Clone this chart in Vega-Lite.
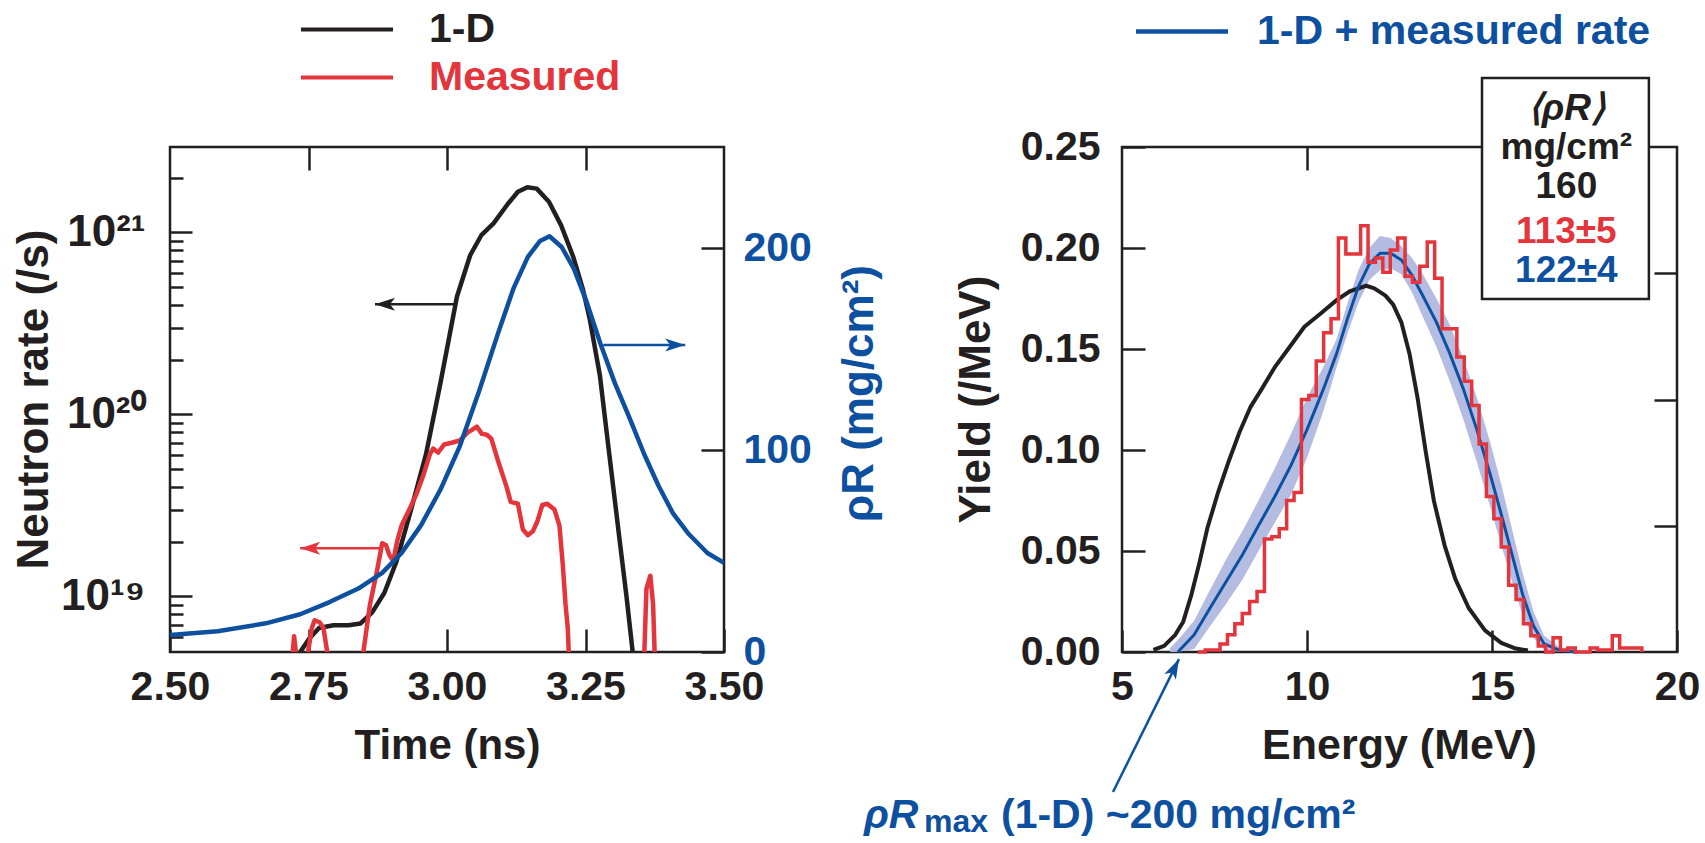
{
"$schema": "https://vega.github.io/schema/vega-lite/v6.json",
"autosize": {"type": "none"},
"padding": {"left": 170, "top": 147, "right": 1535, "bottom": 696},
"background": "white",
"bounds": "flush",
"spacing": 398,
"config": {
  "view": {"stroke": "#231f20", "strokeWidth": 2.5},
  "axis": {
    "grid": false, "domain": false,
    "labelFont": "Liberation Sans", "labelFontSize": 41, "labelFontWeight": "bold", "labelColor": "#231f20",
    "titleFont": "Liberation Sans", "titleFontSize": 42, "titleFontWeight": "bold", "titleColor": "#231f20",
    "tickColor": "#231f20", "tickWidth": 2.5, "labelFlush": false, "labelOverlap": false
  },
  "text": {"font": "Liberation Sans", "fontWeight": "bold"}
},
"datasets": {
  "rate": [
    {"series":"1-D","seg":"b","t":2.730,"rate":4.7e18},
    {"series":"1-D","seg":"b","t":2.752,"rate":5.90e18},
    {"series":"1-D","seg":"b","t":2.769,"rate":6.70e18},
    {"series":"1-D","seg":"b","t":2.795,"rate":6.95e18},
    {"series":"1-D","seg":"b","t":2.822,"rate":6.95e18},
    {"series":"1-D","seg":"b","t":2.844,"rate":7.10e18},
    {"series":"1-D","seg":"b","t":2.865,"rate":8.17e18},
    {"series":"1-D","seg":"b","t":2.887,"rate":1.047e19},
    {"series":"1-D","seg":"b","t":2.909,"rate":1.563e19},
    {"series":"1-D","seg":"b","t":2.935,"rate":2.99e19},
    {"series":"1-D","seg":"b","t":2.962,"rate":6.03e19},
    {"series":"1-D","seg":"b","t":2.988,"rate":1.48e20},
    {"series":"1-D","seg":"b","t":3.018,"rate":4.45e20},
    {"series":"1-D","seg":"b","t":3.042,"rate":7.52e20},
    {"series":"1-D","seg":"b","t":3.062,"rate":9.66e20},
    {"series":"1-D","seg":"b","t":3.084,"rate":1.122e21},
    {"series":"1-D","seg":"b","t":3.110,"rate":1.439e21},
    {"series":"1-D","seg":"b","t":3.128,"rate":1.675e21},
    {"series":"1-D","seg":"b","t":3.145,"rate":1.774e21},
    {"series":"1-D","seg":"b","t":3.162,"rate":1.742e21},
    {"series":"1-D","seg":"b","t":3.184,"rate":1.476e21},
    {"series":"1-D","seg":"b","t":3.206,"rate":1.094e21},
    {"series":"1-D","seg":"b","t":3.228,"rate":7.33e20},
    {"series":"1-D","seg":"b","t":3.245,"rate":4.92e20},
    {"series":"1-D","seg":"b","t":3.258,"rate":3.30e20},
    {"series":"1-D","seg":"b","t":3.276,"rate":1.637e20},
    {"series":"1-D","seg":"b","t":3.293,"rate":6.03e19},
    {"series":"1-D","seg":"b","t":3.311,"rate":2.11e19},
    {"series":"1-D","seg":"b","t":3.324,"rate":9.98e18},
    {"series":"1-D","seg":"b","t":3.336,"rate":4.7e18},
    {"series":"Measured","seg":"r1","t":2.721,"rate":4.7e18},
    {"series":"Measured","seg":"r1","t":2.724,"rate":6.05e18},
    {"series":"Measured","seg":"r1","t":2.728,"rate":4.7e18},
    {"series":"Measured","seg":"r2","t":2.748,"rate":4.7e18},
    {"series":"Measured","seg":"r2","t":2.756,"rate":6.70e18},
    {"series":"Measured","seg":"r2","t":2.761,"rate":7.40e18},
    {"series":"Measured","seg":"r2","t":2.770,"rate":7.21e18},
    {"series":"Measured","seg":"r2","t":2.777,"rate":6.70e18},
    {"series":"Measured","seg":"r2","t":2.785,"rate":4.7e18},
    {"series":"Measured","seg":"r3","t":2.848,"rate":4.7e18},
    {"series":"Measured","seg":"r3","t":2.861,"rate":9.04e18},
    {"series":"Measured","seg":"r3","t":2.873,"rate":1.349e19},
    {"series":"Measured","seg":"r3","t":2.883,"rate":1.959e19},
    {"series":"Measured","seg":"r3","t":2.890,"rate":1.910e19},
    {"series":"Measured","seg":"r3","t":2.896,"rate":1.687e19},
    {"series":"Measured","seg":"r3","t":2.903,"rate":1.567e19},
    {"series":"Measured","seg":"r3","t":2.910,"rate":2.01e19},
    {"series":"Measured","seg":"r3","t":2.918,"rate":2.455e19},
    {"series":"Measured","seg":"r3","t":2.932,"rate":3.00e19},
    {"series":"Measured","seg":"r3","t":2.945,"rate":3.66e19},
    {"series":"Measured","seg":"r3","t":2.958,"rate":4.70e19},
    {"series":"Measured","seg":"r3","t":2.969,"rate":6.04e19},
    {"series":"Measured","seg":"r3","t":2.975,"rate":6.50e19},
    {"series":"Measured","seg":"r3","t":2.984,"rate":6.18e19},
    {"series":"Measured","seg":"r3","t":2.995,"rate":6.84e19},
    {"series":"Measured","seg":"r3","t":3.010,"rate":7.01e19},
    {"series":"Measured","seg":"r3","t":3.023,"rate":7.19e19},
    {"series":"Measured","seg":"r3","t":3.037,"rate":7.94e19},
    {"series":"Measured","seg":"r3","t":3.045,"rate":8.22e19},
    {"series":"Measured","seg":"r3","t":3.054,"rate":8.57e19},
    {"series":"Measured","seg":"r3","t":3.063,"rate":7.82e19},
    {"series":"Measured","seg":"r3","t":3.072,"rate":7.74e19},
    {"series":"Measured","seg":"r3","t":3.080,"rate":7.36e19},
    {"series":"Measured","seg":"r3","t":3.093,"rate":5.46e19},
    {"series":"Measured","seg":"r3","t":3.107,"rate":4.05e19},
    {"series":"Measured","seg":"r3","t":3.115,"rate":3.31e19},
    {"series":"Measured","seg":"r3","t":3.128,"rate":3.23e19},
    {"series":"Measured","seg":"r3","t":3.137,"rate":2.33e19},
    {"series":"Measured","seg":"r3","t":3.146,"rate":2.17e19},
    {"series":"Measured","seg":"r3","t":3.155,"rate":2.28e19},
    {"series":"Measured","seg":"r3","t":3.163,"rate":2.58e19},
    {"series":"Measured","seg":"r3","t":3.172,"rate":3.18e19},
    {"series":"Measured","seg":"r3","t":3.181,"rate":3.23e19},
    {"series":"Measured","seg":"r3","t":3.194,"rate":3.00e19},
    {"series":"Measured","seg":"r3","t":3.203,"rate":2.45e19},
    {"series":"Measured","seg":"r3","t":3.209,"rate":1.49e19},
    {"series":"Measured","seg":"r3","t":3.214,"rate":9.04e18},
    {"series":"Measured","seg":"r3","t":3.218,"rate":6.70e18},
    {"series":"Measured","seg":"r3","t":3.220,"rate":4.7e18},
    {"series":"Measured","seg":"r4","t":3.356,"rate":4.7e18},
    {"series":"Measured","seg":"r4","t":3.360,"rate":1.104e19},
    {"series":"Measured","seg":"r4","t":3.367,"rate":1.30e19},
    {"series":"Measured","seg":"r4","t":3.372,"rate":9.04e18},
    {"series":"Measured","seg":"r4","t":3.375,"rate":4.7e18}
  ],
  "rho": [
    {"t":2.500,"rho":8.4},{"t":2.586,"rho":10.3},{"t":2.673,"rho":14.2},{"t":2.735,"rho":18.7},
    {"t":2.787,"rho":24.6},{"t":2.840,"rho":31.4},{"t":2.883,"rho":39.2},{"t":2.918,"rho":49.0},
    {"t":2.953,"rho":62.7},{"t":2.988,"rho":80.3},{"t":3.023,"rho":101.8},{"t":3.058,"rho":129.2},
    {"t":3.093,"rho":158.5},{"t":3.120,"rho":180.0},{"t":3.146,"rho":195.6},{"t":3.168,"rho":203.5},
    {"t":3.185,"rho":205.8},{"t":3.207,"rho":200.5},{"t":3.229,"rho":189.8},{"t":3.251,"rho":174.1},
    {"t":3.277,"rho":152.6},{"t":3.303,"rho":133.1},{"t":3.330,"rho":115.5},{"t":3.356,"rho":97.9},
    {"t":3.382,"rho":82.2},{"t":3.408,"rho":68.6},{"t":3.435,"rho":58.8},{"t":3.470,"rho":49.0},
    {"t":3.500,"rho":44.1}
  ],
  "arrowsRate": [
    {"series":"1-D","t_from":3.013,"t_to":2.870,"rate":4.03e20},
    {"series":"Measured","t_from":2.883,"t_to":2.735,"rate":1.84e19}
  ],
  "arrowRho": [
    {"series":"rhoR","t_from":3.282,"t_to":3.430,"rho":152}
  ],
  "band": [
    {"E":6.30,"lo":0,"hi":0.002},{"E":6.51,"lo":0,"hi":0.006},{"E":6.95,"lo":0.0015,"hi":0.0155},
    {"E":7.38,"lo":0.0128,"hi":0.0308},{"E":7.82,"lo":0.024,"hi":0.046},{"E":8.26,"lo":0.036,"hi":0.060},
    {"E":8.69,"lo":0.050,"hi":0.075},{"E":9.13,"lo":0.064,"hi":0.091},{"E":9.57,"lo":0.078,"hi":0.108},
    {"E":10.00,"lo":0.096,"hi":0.126},{"E":10.44,"lo":0.119,"hi":0.141},{"E":10.80,"lo":0.141,"hi":0.155},
    {"E":11.10,"lo":0.158,"hi":0.173},{"E":11.39,"lo":0.173,"hi":0.189},{"E":11.68,"lo":0.184,"hi":0.200},
    {"E":11.97,"lo":0.189,"hi":0.206},{"E":12.26,"lo":0.190,"hi":0.205},{"E":12.55,"lo":0.187,"hi":0.201},
    {"E":12.84,"lo":0.178,"hi":0.195},{"E":13.13,"lo":0.166,"hi":0.187},{"E":13.50,"lo":0.151,"hi":0.175},
    {"E":13.86,"lo":0.134,"hi":0.162},{"E":14.23,"lo":0.115,"hi":0.145},{"E":14.59,"lo":0.094,"hi":0.126},
    {"E":14.95,"lo":0.072,"hi":0.104},{"E":15.25,"lo":0.053,"hi":0.083},{"E":15.54,"lo":0.035,"hi":0.061},
    {"E":15.83,"lo":0.018,"hi":0.039},{"E":16.12,"lo":0.007,"hi":0.020},{"E":16.41,"lo":0.001,"hi":0.008},
    {"E":16.85,"lo":0,"hi":0.002},{"E":17.20,"lo":0,"hi":0.0005}
  ],
  "oneD": [
    {"E":5.85,"Y":0.001},{"E":6.14,"Y":0.003},{"E":6.44,"Y":0.0085},{"E":6.655,"Y":0.015},
    {"E":6.87,"Y":0.028},{"E":7.09,"Y":0.044},{"E":7.31,"Y":0.0615},{"E":7.60,"Y":0.0792},
    {"E":7.89,"Y":0.0947},{"E":8.18,"Y":0.109},{"E":8.47,"Y":0.1212},{"E":8.77,"Y":0.130},
    {"E":9.13,"Y":0.141},{"E":9.57,"Y":0.152},{"E":9.93,"Y":0.161},{"E":10.37,"Y":0.1676},
    {"E":10.80,"Y":0.1742},{"E":11.17,"Y":0.1787},{"E":11.60,"Y":0.1813},{"E":11.82,"Y":0.180},
    {"E":12.12,"Y":0.1764},{"E":12.33,"Y":0.172},{"E":12.55,"Y":0.1632},{"E":12.77,"Y":0.1477},
    {"E":12.99,"Y":0.1256},{"E":13.21,"Y":0.099},{"E":13.43,"Y":0.0748},{"E":13.72,"Y":0.0527},
    {"E":14.01,"Y":0.0361},{"E":14.37,"Y":0.0218},{"E":14.81,"Y":0.0107},{"E":15.25,"Y":0.0045},
    {"E":15.61,"Y":0.0019},{"E":15.97,"Y":0.0007}
  ],
  "fit": [
    {"series":"1-D + measured rate","E":6.51,"Y":0},{"series":"1-D + measured rate","E":6.95,"Y":0.0085},
    {"series":"1-D + measured rate","E":7.38,"Y":0.0218},{"series":"1-D + measured rate","E":7.82,"Y":0.035},
    {"series":"1-D + measured rate","E":8.26,"Y":0.0483},{"series":"1-D + measured rate","E":8.69,"Y":0.0626},
    {"series":"1-D + measured rate","E":9.13,"Y":0.077},{"series":"1-D + measured rate","E":9.57,"Y":0.0925},
    {"series":"1-D + measured rate","E":10.00,"Y":0.1101},{"series":"1-D + measured rate","E":10.44,"Y":0.130},
    {"series":"1-D + measured rate","E":10.80,"Y":0.1477},{"series":"1-D + measured rate","E":11.10,"Y":0.1654},
    {"series":"1-D + measured rate","E":11.39,"Y":0.1809},{"series":"1-D + measured rate","E":11.68,"Y":0.1919},
    {"series":"1-D + measured rate","E":11.97,"Y":0.1974},{"series":"1-D + measured rate","E":12.26,"Y":0.1974},
    {"series":"1-D + measured rate","E":12.55,"Y":0.1941},{"series":"1-D + measured rate","E":12.84,"Y":0.1864},
    {"series":"1-D + measured rate","E":13.13,"Y":0.1764},{"series":"1-D + measured rate","E":13.50,"Y":0.1632},
    {"series":"1-D + measured rate","E":13.86,"Y":0.1477},{"series":"1-D + measured rate","E":14.23,"Y":0.130},
    {"series":"1-D + measured rate","E":14.59,"Y":0.1101},{"series":"1-D + measured rate","E":14.95,"Y":0.088},
    {"series":"1-D + measured rate","E":15.25,"Y":0.0682},{"series":"1-D + measured rate","E":15.54,"Y":0.0483},
    {"series":"1-D + measured rate","E":15.83,"Y":0.0284},{"series":"1-D + measured rate","E":16.12,"Y":0.013},
    {"series":"1-D + measured rate","E":16.41,"Y":0.004},{"series":"1-D + measured rate","E":16.85,"Y":0.0007},
    {"series":"1-D + measured rate","E":17.28,"Y":0}
  ],
  "hist": [
    {"E":7.05,"Y":0},{"E":7.25,"Y":0.001},{"E":7.45,"Y":0.001},{"E":7.65,"Y":0.004},{"E":7.85,"Y":0.0085},
    {"E":8.05,"Y":0.014},{"E":8.25,"Y":0.019},{"E":8.45,"Y":0.025},{"E":8.65,"Y":0.030},{"E":8.85,"Y":0.056},
    {"E":9.05,"Y":0.057},{"E":9.25,"Y":0.061},{"E":9.45,"Y":0.075},{"E":9.65,"Y":0.079},{"E":9.85,"Y":0.125},
    {"E":10.05,"Y":0.127},{"E":10.25,"Y":0.144},{"E":10.45,"Y":0.158},{"E":10.65,"Y":0.165},{"E":10.85,"Y":0.205},
    {"E":11.05,"Y":0.197},{"E":11.25,"Y":0.197},{"E":11.45,"Y":0.211},{"E":11.65,"Y":0.193},{"E":11.85,"Y":0.195},
    {"E":12.05,"Y":0.188},{"E":12.25,"Y":0.199},{"E":12.45,"Y":0.205},{"E":12.65,"Y":0.186},{"E":12.85,"Y":0.183},
    {"E":13.05,"Y":0.191},{"E":13.25,"Y":0.203},{"E":13.45,"Y":0.185},{"E":13.65,"Y":0.160},{"E":13.85,"Y":0.160},
    {"E":14.05,"Y":0.146},{"E":14.25,"Y":0.134},{"E":14.45,"Y":0.122},{"E":14.65,"Y":0.103},{"E":14.85,"Y":0.077},
    {"E":15.05,"Y":0.066},{"E":15.25,"Y":0.052},{"E":15.45,"Y":0.033},{"E":15.65,"Y":0.026},{"E":15.85,"Y":0.014},
    {"E":16.05,"Y":0.008},{"E":16.25,"Y":0.003},{"E":16.45,"Y":0},{"E":16.65,"Y":0.007},{"E":16.85,"Y":0.001},
    {"E":17.05,"Y":0.002},{"E":17.25,"Y":0},{"E":17.45,"Y":0},{"E":17.65,"Y":0.002},{"E":17.85,"Y":0.001},
    {"E":18.05,"Y":0.001},{"E":18.25,"Y":0.008},{"E":18.45,"Y":0.002},{"E":18.65,"Y":0.002},{"E":18.85,"Y":0.002},
    {"E":19.05,"Y":0}
  ],
  "box": [{"E":14.73,"E2":19.24,"Y":0.2842,"Y2":0.1748}],
  "boxHead": [{"E":17.01,"Y":0.2690,"txt":"⟨ρR⟩"}],
  "boxBlack": [{"E":17.01,"Y":0.2495,"txt":"mg/cm²"},{"E":17.01,"Y":0.2300,"txt":"160"}],
  "boxRed": [{"E":17.01,"Y":0.2079,"txt":"113±5"}],
  "boxBlue": [{"E":17.01,"Y":0.1886,"txt":"122±4"}],
  "note": [{"E":4.757,"Y":-0.0693,"E2":6.54,"Y2":-0.0035}],
  "noteRho": [{"E":-1.973,"Y":-0.0871,"txt":"ρR"}],
  "noteSub": [{"E":-0.351,"Y":-0.0891,"txt":"max"}],
  "noteRest": [{"E":1.73,"Y":-0.0871,"txt":"(1-D) ~200 mg/cm²"}]
},
"resolve": {"scale": {"color": "independent"}, "legend": {"color": "independent"}},
"hconcat": [
{
  "width": 554, "height": 505,
  "resolve": {"scale": {"y": "independent"}, "axis": {"x": "independent", "y": "independent"}},
  "layer": [
    {
      "data": {"name": "rate"},
      "mark": {"type": "line", "clip": true, "strokeWidth": 4.5, "strokeJoin": "round"},
      "encoding": {
        "x": {"field": "t", "type": "quantitative", "scale": {"domain": [2.5, 3.5], "nice": false, "zero": false},
              "axis": {"orient": "bottom", "values": [2.5, 2.75, 3, 3.25, 3.5], "format": ".2f", "tickSize": -23, "labelPadding": 38,
                       "title": "Time (ns)", "titleX": 277, "titleY": 106, "titleAlign": "center", "titleBaseline": "alphabetic"}},
        "y": {"field": "rate", "type": "quantitative", "scale": {"type": "log", "domain": [4.95e18, 2.95e21], "nice": false},
              "axis": {"orient": "left",
                       "values": [6e18, 7e18, 8e18, 9e18, 1e19, 2e19, 3e19, 4e19, 5e19, 6e19, 7e19, 8e19, 9e19, 1e20, 2e20, 3e20, 4e20, 5e20, 6e20, 7e20, 8e20, 9e20, 1e21, 2e21],
                       "labelExpr": "datum.value == 1e19 ? '10¹⁹' : datum.value == 1e20 ? '10²⁰' : datum.value == 1e21 ? '10²¹' : ''",
                       "tickSize": {"condition": {"test": "datum.value == 1e19 || datum.value == 1e20 || datum.value == 1e21", "value": -22}, "value": -13},
                       "labelPadding": 47, "labelFontSize": 44,
                       "title": "Neutron rate (/s)", "titleFontSize": 44, "titleX": -123, "titleY": 252, "titleAngle": 270, "titleAlign": "center", "titleBaseline": "alphabetic"}},
        "color": {"field": "series", "type": "nominal",
                  "scale": {"domain": ["1-D", "Measured"], "range": ["#231f20", "#e4343c"]},
                  "legend": {"title": null, "orient": "none", "legendX": 122, "legendY": -138, "direction": "vertical",
                             "symbolType": "M-1,0H7", "symbolSize": 529, "symbolStrokeWidth": 4,
                             "labelFont": "Liberation Sans", "labelFontSize": 41, "labelFontWeight": "bold",
                             "labelOffset": 96, "rowPadding": 6, "labelLimit": 600, "padding": 0,
                             "encode": {"labels": {"update": {"fill": {"signal": "datum.label === 'Measured' ? '#e4343c' : '#231f20'"}}}}}},
        "detail": {"field": "seg", "type": "nominal"}
      }
    },
    {
      "data": {"name": "arrowsRate"},
      "transform": [{"filter": "datum.series === '1-D'"}],
      "mark": {"type": "rule", "strokeWidth": 2.5, "color": "#231f20"},
      "encoding": {
        "x": {"field": "t_from", "type": "quantitative", "scale": {"domain": [2.5, 3.5], "nice": false, "zero": false}, "axis": null},
        "x2": {"field": "t_to"},
        "y": {"field": "rate", "type": "quantitative", "scale": {"type": "log", "domain": [4.95e18, 2.95e21], "nice": false}, "axis": null}
      }
    },
    {
      "data": {"name": "arrowsRate"},
      "transform": [{"filter": "datum.series === '1-D'"}],
      "mark": {"type": "point", "shape": "M0,0L2,-0.65L1.5,0L2,0.65Z", "size": 400, "filled": true, "opacity": 1, "color": "#231f20", "strokeWidth": 0},
      "encoding": {
        "x": {"field": "t_to", "type": "quantitative", "scale": {"domain": [2.5, 3.5], "nice": false, "zero": false}, "axis": null},
        "y": {"field": "rate", "type": "quantitative", "scale": {"type": "log", "domain": [4.95e18, 2.95e21], "nice": false}, "axis": null}
      }
    },
    {
      "data": {"name": "arrowsRate"},
      "transform": [{"filter": "datum.series === 'Measured'"}],
      "mark": {"type": "rule", "strokeWidth": 2.5, "color": "#e4343c"},
      "encoding": {
        "x": {"field": "t_from", "type": "quantitative", "scale": {"domain": [2.5, 3.5], "nice": false, "zero": false}, "axis": null},
        "x2": {"field": "t_to"},
        "y": {"field": "rate", "type": "quantitative", "scale": {"type": "log", "domain": [4.95e18, 2.95e21], "nice": false}, "axis": null}
      }
    },
    {
      "data": {"name": "arrowsRate"},
      "transform": [{"filter": "datum.series === 'Measured'"}],
      "mark": {"type": "point", "shape": "M0,0L2,-0.65L1.5,0L2,0.65Z", "size": 400, "filled": true, "opacity": 1, "color": "#e4343c", "strokeWidth": 0},
      "encoding": {
        "x": {"field": "t_to", "type": "quantitative", "scale": {"domain": [2.5, 3.5], "nice": false, "zero": false}, "axis": null},
        "y": {"field": "rate", "type": "quantitative", "scale": {"type": "log", "domain": [4.95e18, 2.95e21], "nice": false}, "axis": null}
      }
    },
    {
      "data": {"name": "rho"},
      "mark": {"type": "line", "clip": true, "strokeWidth": 4.5, "color": "#0e50a0", "strokeJoin": "round"},
      "encoding": {
        "x": {"field": "t", "type": "quantitative", "scale": {"domain": [2.5, 3.5], "nice": false, "zero": false},
              "axis": {"orient": "top", "values": [2.75, 3, 3.25], "tickSize": -23, "labels": false, "title": null}},
        "y": {"field": "rho", "type": "quantitative", "scale": {"domain": [0, 250], "nice": false},
              "axis": {"orient": "right", "values": [0, 100, 200], "tickSize": -23, "labelPadding": 42,
                       "labelColor": "#0e50a0", "labelAlign": "left", "labelBaseline": "middle",
                       "title": "ρR (mg/cm²)", "titleFontSize": 44, "titleColor": "#0e50a0", "titleX": 148, "titleY": 246, "titleAngle": 270,
                       "titleAlign": "center", "titleBaseline": "alphabetic"}}
      }
    },
    {
      "data": {"name": "arrowRho"},
      "mark": {"type": "rule", "strokeWidth": 2.5, "color": "#0e50a0"},
      "encoding": {
        "x": {"field": "t_from", "type": "quantitative", "scale": {"domain": [2.5, 3.5], "nice": false, "zero": false}, "axis": null},
        "x2": {"field": "t_to"},
        "y": {"field": "rho", "type": "quantitative", "scale": {"domain": [0, 250], "nice": false}, "axis": null}
      }
    },
    {
      "data": {"name": "arrowRho"},
      "mark": {"type": "point", "shape": "M0,0L-2,-0.65L-1.5,0L-2,0.65Z", "size": 400, "filled": true, "opacity": 1, "color": "#0e50a0", "strokeWidth": 0},
      "encoding": {
        "x": {"field": "t_to", "type": "quantitative", "scale": {"domain": [2.5, 3.5], "nice": false, "zero": false}, "axis": null},
        "y": {"field": "rho", "type": "quantitative", "scale": {"domain": [0, 250], "nice": false}, "axis": null}
      }
    }
  ]
},
{
  "width": 555, "height": 505,
  "resolve": {"axis": {"x": "independent", "y": "independent"}},
  "layer": [
    {
      "data": {"name": "band"},
      "mark": {"type": "area", "color": "#b0b8e0", "opacity": 0.95},
      "encoding": {
        "x": {"field": "E", "type": "quantitative", "scale": {"domain": [5, 20], "nice": false, "zero": false},
              "axis": {"orient": "bottom", "values": [5, 10, 15, 20], "tickSize": -22, "labelPadding": 37,
                       "title": "Energy (MeV)", "titleFontSize": 43, "titleX": 277, "titleY": 106, "titleAlign": "center", "titleBaseline": "alphabetic"}},
        "y": {"field": "lo", "type": "quantitative", "scale": {"domain": [0, 0.25], "nice": false, "zero": false},
              "axis": {"orient": "left", "values": [0, 0.05, 0.1, 0.15, 0.2, 0.25], "format": ".2f", "tickSize": -23, "labelPadding": 45,
                       "title": "Yield (/MeV)", "titleFontSize": 44, "titleX": -133, "titleY": 252, "titleAngle": 270, "titleAlign": "center", "titleBaseline": "alphabetic"}},
        "y2": {"field": "hi"}
      }
    },
    {
      "data": {"name": "oneD"},
      "mark": {"type": "line", "strokeWidth": 4, "color": "#231f20", "strokeJoin": "round"},
      "encoding": {
        "x": {"field": "E", "type": "quantitative", "scale": {"domain": [5, 20], "nice": false, "zero": false},
              "axis": {"orient": "top", "values": [10, 15], "tickSize": -23, "labels": false, "title": null}},
        "y": {"field": "Y", "type": "quantitative", "scale": {"domain": [0, 0.25], "nice": false, "zero": false},
              "axis": {"orient": "right", "values": [0.0625, 0.125, 0.1875], "tickSize": -23, "labels": false, "title": null}}
      }
    },
    {
      "data": {"name": "fit"},
      "mark": {"type": "line", "strokeWidth": 3, "strokeJoin": "round"},
      "encoding": {
        "x": {"field": "E", "type": "quantitative", "scale": {"domain": [5, 20], "nice": false, "zero": false}, "axis": null},
        "y": {"field": "Y", "type": "quantitative", "scale": {"domain": [0, 0.25], "nice": false, "zero": false}, "axis": null},
        "color": {"field": "series", "type": "nominal", "scale": {"domain": ["1-D + measured rate"], "range": ["#0e50a0"]},
                  "legend": {"title": null, "orient": "none", "legendX": 5, "legendY": -136,
                             "symbolType": "M-1,0H7", "symbolSize": 529, "symbolStrokeWidth": 4.5,
                             "labelFont": "Liberation Sans", "labelFontSize": 41, "labelFontWeight": "bold", "labelColor": "#0e50a0",
                             "labelOffset": 89, "labelLimit": 800, "padding": 0}}
      }
    },
    {
      "data": {"name": "hist"},
      "mark": {"type": "line", "interpolate": "step-after", "strokeWidth": 3.5, "color": "#e4343c"},
      "encoding": {
        "x": {"field": "E", "type": "quantitative", "scale": {"domain": [5, 20], "nice": false, "zero": false}, "axis": null},
        "y": {"field": "Y", "type": "quantitative", "scale": {"domain": [0, 0.25], "nice": false, "zero": false}, "axis": null}
      }
    },
    {
      "data": {"name": "box"},
      "mark": {"type": "rect", "fill": "white", "stroke": "#231f20", "strokeWidth": 2.5},
      "encoding": {
        "x": {"field": "E", "type": "quantitative", "scale": {"domain": [5, 20], "nice": false, "zero": false}, "axis": null},
        "x2": {"field": "E2"},
        "y": {"field": "Y", "type": "quantitative", "scale": {"domain": [0, 0.25], "nice": false, "zero": false}, "axis": null},
        "y2": {"field": "Y2"}
      }
    },
    {
      "data": {"name": "boxHead"},
      "mark": {"type": "text", "font": "Liberation Sans", "fontWeight": "bold", "fontStyle": "italic", "fontSize": 37, "color": "#231f20", "align": "center", "baseline": "middle"},
      "encoding": {
        "x": {"field": "E", "type": "quantitative", "scale": {"domain": [5, 20], "nice": false, "zero": false}, "axis": null},
        "y": {"field": "Y", "type": "quantitative", "scale": {"domain": [0, 0.25], "nice": false, "zero": false}, "axis": null},
        "text": {"field": "txt"}
      }
    },
    {
      "data": {"name": "boxBlack"},
      "mark": {"type": "text", "font": "Liberation Sans", "fontWeight": "bold", "fontSize": 37, "color": "#231f20", "align": "center", "baseline": "middle"},
      "encoding": {
        "x": {"field": "E", "type": "quantitative", "scale": {"domain": [5, 20], "nice": false, "zero": false}, "axis": null},
        "y": {"field": "Y", "type": "quantitative", "scale": {"domain": [0, 0.25], "nice": false, "zero": false}, "axis": null},
        "text": {"field": "txt"}
      }
    },
    {
      "data": {"name": "boxRed"},
      "mark": {"type": "text", "font": "Liberation Sans", "fontWeight": "bold", "fontSize": 37, "color": "#e4343c", "align": "center", "baseline": "middle"},
      "encoding": {
        "x": {"field": "E", "type": "quantitative", "scale": {"domain": [5, 20], "nice": false, "zero": false}, "axis": null},
        "y": {"field": "Y", "type": "quantitative", "scale": {"domain": [0, 0.25], "nice": false, "zero": false}, "axis": null},
        "text": {"field": "txt"}
      }
    },
    {
      "data": {"name": "boxBlue"},
      "mark": {"type": "text", "font": "Liberation Sans", "fontWeight": "bold", "fontSize": 37, "color": "#0e50a0", "align": "center", "baseline": "middle"},
      "encoding": {
        "x": {"field": "E", "type": "quantitative", "scale": {"domain": [5, 20], "nice": false, "zero": false}, "axis": null},
        "y": {"field": "Y", "type": "quantitative", "scale": {"domain": [0, 0.25], "nice": false, "zero": false}, "axis": null},
        "text": {"field": "txt"}
      }
    },
    {
      "data": {"name": "note"},
      "mark": {"type": "rule", "strokeWidth": 2.5, "color": "#0e50a0"},
      "encoding": {
        "x": {"field": "E", "type": "quantitative", "scale": {"domain": [5, 20], "nice": false, "zero": false}, "axis": null},
        "x2": {"field": "E2"},
        "y": {"field": "Y", "type": "quantitative", "scale": {"domain": [0, 0.25], "nice": false, "zero": false}, "axis": null},
        "y2": {"field": "Y2"}
      }
    },
    {
      "data": {"name": "note"},
      "mark": {"type": "point", "shape": "M0,0L-2,-0.65L-1.5,0L-2,0.65Z", "size": 400, "angle": 296.4, "filled": true, "opacity": 1, "color": "#0e50a0", "strokeWidth": 0},
      "encoding": {
        "x": {"field": "E2", "type": "quantitative", "scale": {"domain": [5, 20], "nice": false, "zero": false}, "axis": null},
        "y": {"field": "Y2", "type": "quantitative", "scale": {"domain": [0, 0.25], "nice": false, "zero": false}, "axis": null}
      }
    },
    {
      "data": {"name": "noteRho"},
      "mark": {"type": "text", "font": "Liberation Sans", "fontWeight": "bold", "fontStyle": "italic", "fontSize": 41, "color": "#0e50a0", "align": "left", "baseline": "alphabetic"},
      "encoding": {
        "x": {"field": "E", "type": "quantitative", "scale": {"domain": [5, 20], "nice": false, "zero": false}, "axis": null},
        "y": {"field": "Y", "type": "quantitative", "scale": {"domain": [0, 0.25], "nice": false, "zero": false}, "axis": null},
        "text": {"field": "txt"}
      }
    },
    {
      "data": {"name": "noteSub"},
      "mark": {"type": "text", "font": "Liberation Sans", "fontWeight": "bold", "fontSize": 32, "color": "#0e50a0", "align": "left", "baseline": "alphabetic"},
      "encoding": {
        "x": {"field": "E", "type": "quantitative", "scale": {"domain": [5, 20], "nice": false, "zero": false}, "axis": null},
        "y": {"field": "Y", "type": "quantitative", "scale": {"domain": [0, 0.25], "nice": false, "zero": false}, "axis": null},
        "text": {"field": "txt"}
      }
    },
    {
      "data": {"name": "noteRest"},
      "mark": {"type": "text", "font": "Liberation Sans", "fontWeight": "bold", "fontSize": 41, "color": "#0e50a0", "align": "left", "baseline": "alphabetic"},
      "encoding": {
        "x": {"field": "E", "type": "quantitative", "scale": {"domain": [5, 20], "nice": false, "zero": false}, "axis": null},
        "y": {"field": "Y", "type": "quantitative", "scale": {"domain": [0, 0.25], "nice": false, "zero": false}, "axis": null},
        "text": {"field": "txt"}
      }
    }
  ]
}
]
}
